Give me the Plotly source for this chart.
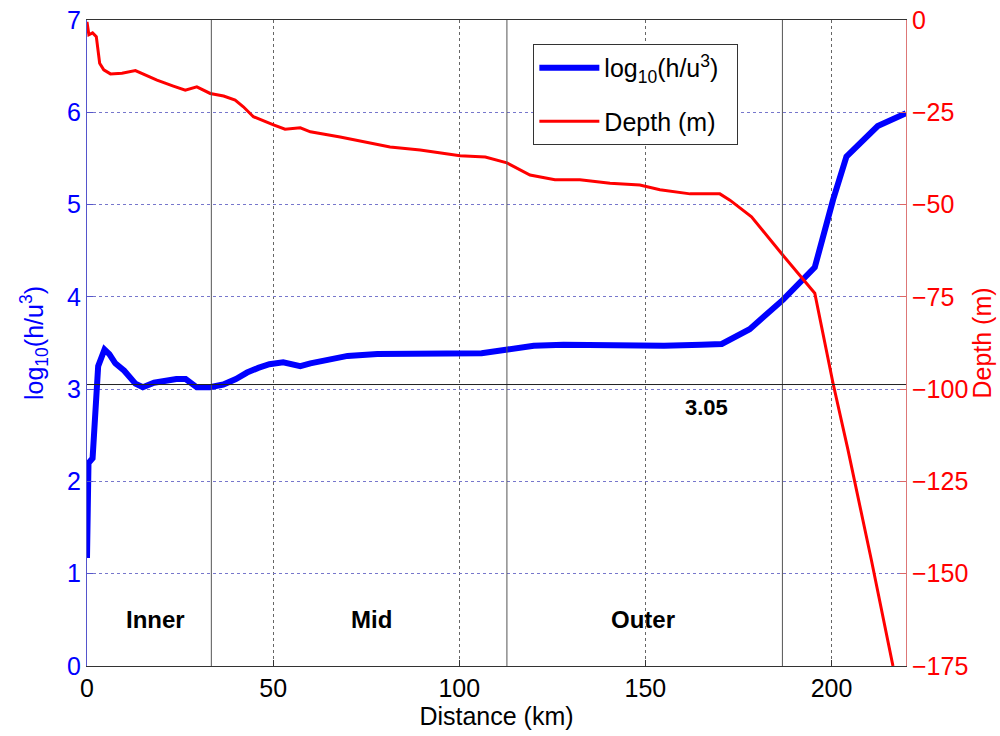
import plotly.graph_objects as go

# ---- data ----
blue_km = [0, 0.05, 0.4, 1.5, 2.3, 3.0, 4.7, 6.0, 7.6, 10, 13, 15, 18, 21, 24, 26.5, 29.5,
           33, 36.6, 40, 43, 46, 49, 52.7, 57.3, 60, 65, 70, 78, 90, 100, 106, 113, 120,
           128, 140, 155, 165, 170.5, 178, 187, 195.5, 200.4, 204, 212.4, 220]
blue_log = [1.17, 2.15, 2.2, 2.25, 2.85, 3.25, 3.43, 3.38, 3.28, 3.2, 3.06, 3.02, 3.07, 3.09,
            3.11, 3.11, 3.02, 3.02, 3.05, 3.11, 3.18, 3.23, 3.27, 3.29, 3.25, 3.28, 3.32,
            3.36, 3.38, 3.38, 3.38, 3.39, 3.43, 3.47, 3.48, 3.47, 3.47, 3.48, 3.49, 3.65,
            3.97, 4.32, 5.05, 5.52, 5.85, 5.99]

red_km = [0, 0.5, 1.5, 2.5, 3.4, 4.5, 6.3, 9.4, 13, 15.7, 18.8, 23.2, 26.4, 29.5, 33.1, 36.7,
          39.8, 42, 44.7, 50.1, 53.2, 57.3, 60, 68, 81.4, 89.5, 94.8, 100.2, 107, 112.8,
          119, 125.7, 132.4, 140.5, 148.5, 153.9, 162, 170, 172.7, 178.5, 186.5, 192.4,
          195.5, 200.4, 204.4, 210.7, 216.5]
red_depth = [-0.5, -4, -3.5, -4.5, -11.7, -13.5, -14.6, -14.4, -13.7, -14.9, -16.3, -17.9,
             -19.0, -18.1, -19.9, -20.6, -21.7, -23.5, -26.2, -28.4, -29.6, -29.2, -30.3,
             -31.7, -34.4, -35.2, -36.0, -36.8, -37.1, -38.7, -42.0, -43.3, -43.3, -44.2,
             -44.7, -46.0, -47.1, -47.1, -48.8, -53.3, -63.2, -70.4, -74.0, -98.4, -116.4,
             -146.3, -175.0]

zone_bounds = [33.4, 112.8, 186.8]
zone_labels = ["Inner", "Mid", "Outer"]
zone_label_x = [18.3, 76.3, 149.3]
threshold = 3.05
x_ticks = [0, 50, 100, 150, 200]
y_ticks = [0, 1, 2, 3, 4, 5, 6, 7]
depth_ticks = [0, -25, -50, -75, -100, -125, -150, -175]

FONT = "Liberation Sans, Arial, sans-serif"
BLUE = "#0000ff"
RED = "#ff0000"

fig = go.Figure()
fig.add_trace(go.Scatter(x=blue_km, y=blue_log, mode="lines",
                         name="log<sub>10</sub>(h/u<sup>3</sup>)  ",
                         line=dict(color=BLUE, width=6), legendgroup="a"))
fig.add_trace(go.Scatter(x=red_km, y=red_depth, mode="lines", name="Depth (m)",
                         line=dict(color=RED, width=3), yaxis="y2", legendgroup="b"))

for xb in zone_bounds:
    fig.add_shape(type="line", x0=xb, x1=xb, y0=0, y1=1, xref="x", yref="paper",
                  line=dict(color="#555555", width=1))
fig.add_shape(type="line", x0=0, x1=1, y0=threshold, y1=threshold, xref="paper", yref="y",
              line=dict(color="#222222", width=1))

for lx, lt in zip(zone_label_x, zone_labels):
    fig.add_annotation(x=lx, y=0.5, text="<b>" + lt + "</b>", showarrow=False,
                       font=dict(family=FONT, size=24, color="black"))
fig.add_annotation(x=166.5, y=2.8, text="<b>" + str(threshold) + "</b>", showarrow=False,
                   font=dict(family=FONT, size=22, color="black"))

fig.update_layout(
    width=1000, height=736,
    margin=dict(l=87, r=94, t=20, b=70),
    paper_bgcolor="white", plot_bgcolor="white",
    font=dict(family=FONT, size=25, color="black"),
    showlegend=True,
    legend=dict(x=0.545, y=0.963, xanchor="left", yanchor="top",
                bgcolor="white", bordercolor="#333333", borderwidth=1,
                font=dict(family=FONT, size=25, color="black"),
                tracegroupgap=18, itemwidth=60),
    xaxis=dict(range=[0, 220], tickvals=x_ticks, ticks="inside", ticklen=6,
               tickcolor="#333333", showline=True, linecolor="#333333", mirror=True,
               showgrid=True, gridcolor="#666666", griddash="dot", gridwidth=1,
               zeroline=False, tickfont=dict(size=25, color="black"), automargin=False,
               title=dict(text="Distance (km)", font=dict(size=25, color="black"), standoff=2)),
    yaxis=dict(range=[0, 7], tickvals=y_ticks, ticks="inside", ticklen=6,
               tickcolor="#5555cc", showline=True, linecolor="#5555cc",
               showgrid=True, gridcolor="#7777cc", griddash="dot", gridwidth=1,
               zeroline=False, tickfont=dict(size=25, color=BLUE), automargin=False,
               title=dict(text="log<sub>10</sub>(h/u<sup>3</sup>)",
                          font=dict(size=25, color=BLUE), standoff=16)),
    yaxis2=dict(range=[-175, 0], tickvals=depth_ticks, overlaying="y", side="right",
                ticks="inside", ticklen=6, tickcolor="#dd6666", showline=True,
                linecolor="#dd7777", showgrid=False, zeroline=False, automargin=False,
                tickfont=dict(size=25, color=RED),
                title=dict(text="Depth (m)", font=dict(size=25, color=RED), standoff=3)),
)

fig.write_html("out.html")
